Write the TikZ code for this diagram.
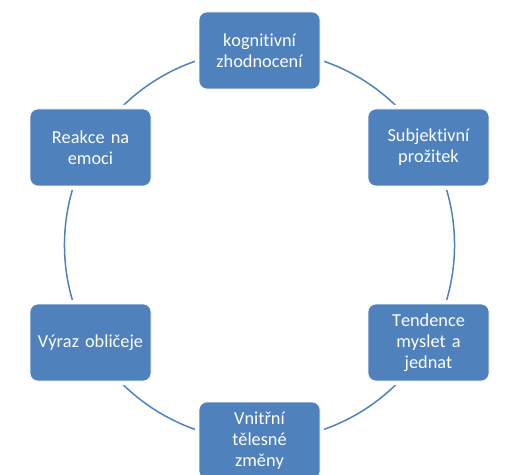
\documentclass[tikz,border=0pt]{standalone}
\usepackage{fontspec}
\setmainfont{Carlito}[Ligatures=NoCommon, Kerning=Off]
\usepackage{tikz}
\usetikzlibrary{backgrounds}
\definecolor{officeblue}{HTML}{4F81BD}

\begin{document}
\begin{tikzpicture}[x=1pt,y=1pt,
		stepbox/.style={rectangle, rounded corners=8pt, fill=officeblue,
			draw=white, line width=0.6pt, minimum width=121pt, minimum height=77pt,
			inner sep=0pt, text width=112pt, align=center, text=white,
			font=\fontsize{18.3}{20.8}\selectfont,
			preaction={draw=white, line width=8pt}},
		ring/.style={draw=officeblue, line width=1.5pt, looseness=0.9126}]
		\useasboundingbox (0,0) rectangle (505,474);
		
		\node[stepbox] (kog) at (259.5,423.5) {kognitivní\\zhodnocení};
		\node[stepbox] (sub) at (428.5,326.5) {Subjektivní\\prožitek};
		\node[stepbox] (ten) at (428.5,131.5) {Tendence\\myslet a\\jednat};
		\node[stepbox] (vni) at (259.5,33.5) {Vnitřní\\tělesné\\změny};
		\node[stepbox] (vyr) at (90.5,131.5) {Výraz obličeje};
		\node[stepbox] (rea) at (90.5,326.5) {Reakce na\\emoci};
		
		\begin{scope}[on background layer]
			\draw[ring] (kog.center) to[bend left=30] (sub.center);
			\draw[ring] (sub.center) to[bend left=30] (ten.center);
			\draw[ring] (ten.center) to[bend left=30] (vni.center);
			\draw[ring] (vni.center) to[bend left=30] (vyr.center);
			\draw[ring] (vyr.center) to[bend left=30] (rea.center);
			\draw[ring] (rea.center) to[bend left=30] (kog.center);
		\end{scope}
	\end{tikzpicture}
\end{document}
